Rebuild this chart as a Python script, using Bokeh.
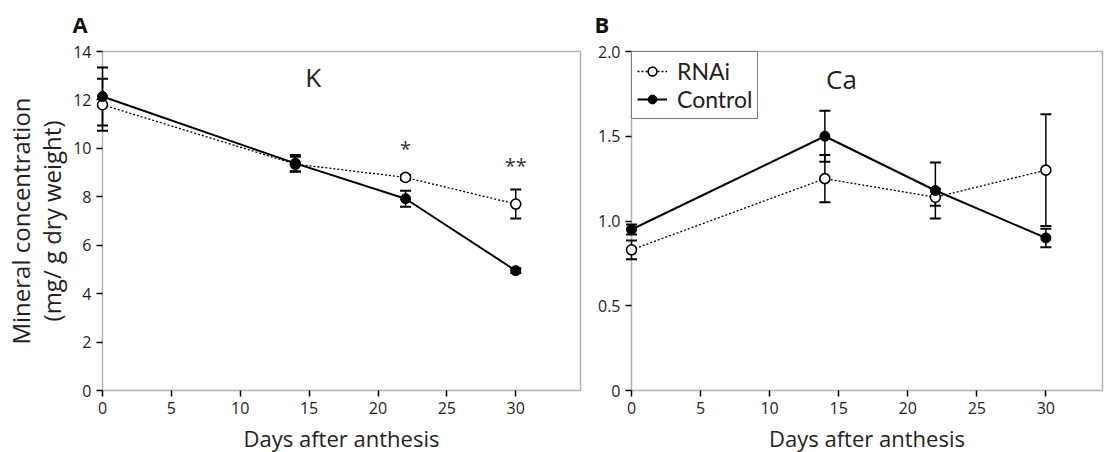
from bokeh.plotting import figure
from bokeh.layouts import row
from bokeh.models import (Range1d, FixedTicker, Whisker, TeeHead, ColumnDataSource,
                          Label, Legend, LegendItem, BoxAnnotation, Title, LinearAxis)
from bokeh.embed import file_html
from bokeh.resources import INLINE

days = [0, 14, 22, 30]
k_rnai = [11.8, 9.35, 8.8, 7.7]
k_rnai_err = [1.07, 0.3, 0.1, 0.6]
k_ctrl = [12.14, 9.38, 7.92, 4.95]
k_ctrl_err = [1.2, 0.35, 0.33, 0.1]
ca_rnai = [0.83, 1.25, 1.14, 1.30]
ca_rnai_err = [0.055, 0.14, 0.05, 0.33]
ca_ctrl = [0.95, 1.50, 1.18, 0.90]
ca_ctrl_err = [0.03, 0.15, 0.165, 0.055]

x_ticks = [0, 5, 10, 15, 20, 25, 30]
k_ticks = [0, 2, 4, 6, 8, 10, 12, 14]
ca_ticks = [0, 0.5, 1.0, 1.5, 2.0]
ca_tick_labels = {0: "0", 0.5: "0.5", 1.0: "1.0", 1.5: "1.5", 2.0: "2.0"}

FONT = "Open Sans"
TXT = "#231f20"
PAD = 6  # px between frame edge and drawn axis box


def make_fig(xmax, ymax, frame_w, frame_h, border, yticks, letter, letter_offset):
    pad_x = PAD * xmax / (frame_w - 2 * PAD)
    pad_y = PAD * ymax / (frame_h - 2 * PAD)
    left, right, top, bottom = border
    p = figure(frame_width=frame_w, frame_height=frame_h, output_backend="svg",
               toolbar_location=None,
               x_range=Range1d(-pad_x, xmax + pad_x), y_range=Range1d(-pad_y, ymax + pad_y),
               min_border_left=left, min_border_right=right,
               min_border_top=top, min_border_bottom=bottom)
    p.outline_line_color = None
    p.xgrid.visible = False
    p.ygrid.visible = False
    for ax in (p.xaxis[0], p.yaxis[0]):
        ax.axis_line_color = None
        ax.major_tick_line_width = 1.5
        ax.major_tick_line_color = "black"
        ax.major_tick_out = 0
        ax.major_tick_in = PAD
        ax.minor_tick_out = 0
        ax.minor_tick_in = 0
        ax.major_label_text_font = FONT
        ax.major_label_text_font_size = "16px"
        ax.major_label_text_color = TXT
        ax.axis_label_text_font = FONT
        ax.axis_label_text_font_style = "normal"
        ax.axis_label_text_color = TXT
    p.xaxis.ticker = FixedTicker(ticks=x_ticks)
    p.yaxis.ticker = FixedTicker(ticks=yticks)
    p.xaxis.axis_label = "Days after anthesis"
    p.xaxis.axis_label_text_font_size = "22px"
    p.xaxis.axis_label_standoff = 6
    p.xaxis.major_label_standoff = 5
    p.yaxis.major_label_standoff = 5
    box = BoxAnnotation(left=0, right=xmax, bottom=0, top=ymax, fill_alpha=0,
                        line_color="black", line_width=1.5, level="underlay")
    p.add_layout(box)
    p.title = Title(text=letter, text_font=FONT, text_font_size="22px",
                    text_font_style="bold", text_color="#111111", align="left",
                    offset=letter_offset, standoff=13)
    return p


def add_series(p, y_r, e_r, y_c, e_c):
    src_r = ColumnDataSource(dict(x=days, y=y_r, lo=[a - b for a, b in zip(y_r, e_r)],
                                  hi=[a + b for a, b in zip(y_r, e_r)]))
    src_c = ColumnDataSource(dict(x=days, y=y_c, lo=[a - b for a, b in zip(y_c, e_c)],
                                  hi=[a + b for a, b in zip(y_c, e_c)]))
    for src in (src_r, src_c):
        w = Whisker(source=src, base="x", upper="hi", lower="lo", dimension="height",
                    line_color="black", line_width=1.5,
                    upper_head=TeeHead(size=11, line_width=2, line_color="black"),
                    lower_head=TeeHead(size=11, line_width=2, line_color="black"))
        p.add_layout(w)
    lr = p.line("x", "y", source=src_r, line_color="black", line_width=1.3, line_dash="2 2")
    mr = p.scatter("x", "y", source=src_r, marker="circle", size=10, fill_color="white",
                   line_color="black", line_width=1.6)
    lc = p.line("x", "y", source=src_c, line_color="black", line_width=2)
    mc = p.scatter("x", "y", source=src_c, marker="circle", size=10, fill_color="black",
                   line_color="black", line_width=1)
    return [lr, mr], [lc, mc]


# Panel A
pa = make_fig(34.7, 14, 490, 351, (96, 4, 45, 56), k_ticks, "A", -24)
pa.yaxis.axis_label = "(mg/ g dry weight)"
pa.yaxis.axis_label_text_font_size = "24px"
pa.yaxis.axis_label_standoff = 2
extra = LinearAxis(ticker=FixedTicker(ticks=[]), axis_label="Mineral concentration",
                   axis_label_text_font=FONT, axis_label_text_font_size="24px",
                   axis_label_text_font_style="normal", axis_label_text_color=TXT,
                   axis_line_color=None, major_tick_out=0, major_tick_in=0,
                   minor_tick_out=0, minor_tick_in=0, major_label_standoff=0,
                   axis_label_standoff=-4)
pa.add_layout(extra, "left")
add_series(pa, k_rnai, k_rnai_err, k_ctrl, k_ctrl_err)
pa.add_layout(Label(x=15.3, y=12.95, text="K", text_font=FONT, text_font_size="26px",
                    text_align="center", text_baseline="middle", text_color=TXT))
pa.add_layout(Label(x=22, y=10.0, text="*", text_font=FONT, text_font_size="20px",
                    text_align="center", text_baseline="middle", text_color="#333333"))
pa.add_layout(Label(x=30, y=9.3, text="**", text_font=FONT, text_font_size="20px",
                    text_align="center", text_baseline="middle", text_color="#333333"))

# Panel B
pb = make_fig(34.1, 2.0, 483, 351, (35, 0, 42, 59), ca_ticks, "B", -31)
pb.yaxis.major_label_overrides = ca_tick_labels
rr, rc = add_series(pb, ca_rnai, ca_rnai_err, ca_ctrl, ca_ctrl_err)
pb.add_layout(Label(x=15.2, y=1.84, text="Ca", text_font=FONT, text_font_size="26px",
                    text_align="center", text_baseline="middle", text_color=TXT))
legend = Legend(items=[LegendItem(label="RNAi", renderers=rr),
                       LegendItem(label="Control", renderers=rc)],
                location="top_left", margin=PAD, padding=5, spacing=0,
                border_line_color="black", border_line_width=1.5,
                label_text_font="Lato", label_text_font_size="23px",
                label_text_color=TXT, glyph_width=30, glyph_height=22,
                label_standoff=10, label_height=22)
pb.add_layout(legend)

layout = row(pa, pb)
open("out.html", "w").write(file_html(layout, INLINE))
